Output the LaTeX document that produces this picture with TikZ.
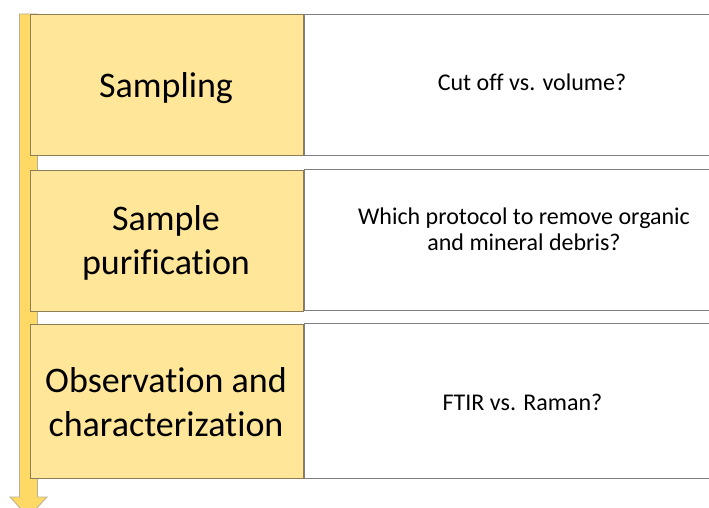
\documentclass[tikz,border=0pt]{standalone}
\usepackage{fontspec}
\setmainfont{Carlito}[Ligatures={NoCommon,NoRequired,NoContextual}]
\usetikzlibrary{positioning}
\definecolor{stagefill}{RGB}{255,230,153}
\definecolor{stageline}{RGB}{140,125,85}
\definecolor{arrowfill}{RGB}{255,217,102}
\definecolor{arrowline}{RGB}{185,175,145}
\definecolor{rowline}{RGB}{128,128,128}
\tikzset{
stage/.style={
       rectangle,
       draw=stageline,
       fill=stagefill,
       line width=.8pt,
       anchor=north west,
       minimum width=273.5pt,
       inner sep=0pt,
       },
question/.style={
       rectangle,
       draw=rowline,
       fill=white,
       line width=1pt,
       minimum width=430pt,
       inner sep=0pt,
       },
stagetext/.style={font=\fontsize{36}{44}\selectfont, align=center, inner sep=0pt},
questiontext/.style={font=\fontsize{24}{26}\selectfont, align=center, inner sep=0pt},
}

\begin{document}
\begin{tikzpicture}[x=1pt, y=-1pt]
      \useasboundingbox (0,0) rectangle (709,508);

      % long arrow behind the stages
      \draw[fill=arrowfill, draw=arrowline, line width=.8pt]
            (19.5,14) -- (37.5,14) -- (37.5,497) -- (47,497) -- (28.5,517)
            -- (10,497) -- (19.5,497) -- cycle;

      % one row per stage
      \foreach \n/\y/\h in {
          1/14/141,
          2/169.5/141,
          3/323.5/154.5
      } {
          \node [stage, minimum height=\h pt] (stage\n) at (29.5,\y) {};
          \node [question, minimum height=\h pt, right=0pt of stage\n] (quest\n) {};
      }

      \node [stagetext] (sampling) at (166,88) {Sampling};
      \node [stagetext] (purification) at (166,242.5) {Sample\\purification};
      \node [stagetext] (observation) at (166,402) {Observation and\\characterization};

      \node [questiontext] (cutoff) at (532,82.5) {Cut off vs. volume?};
      \node [questiontext] (protocol) at (524,229.5) {Which protocol to remove organic\\and mineral debris?};
      \node [questiontext] (ftir) at (522.5,402) {FTIR vs. Raman?};
\end{tikzpicture}
\end{document}
